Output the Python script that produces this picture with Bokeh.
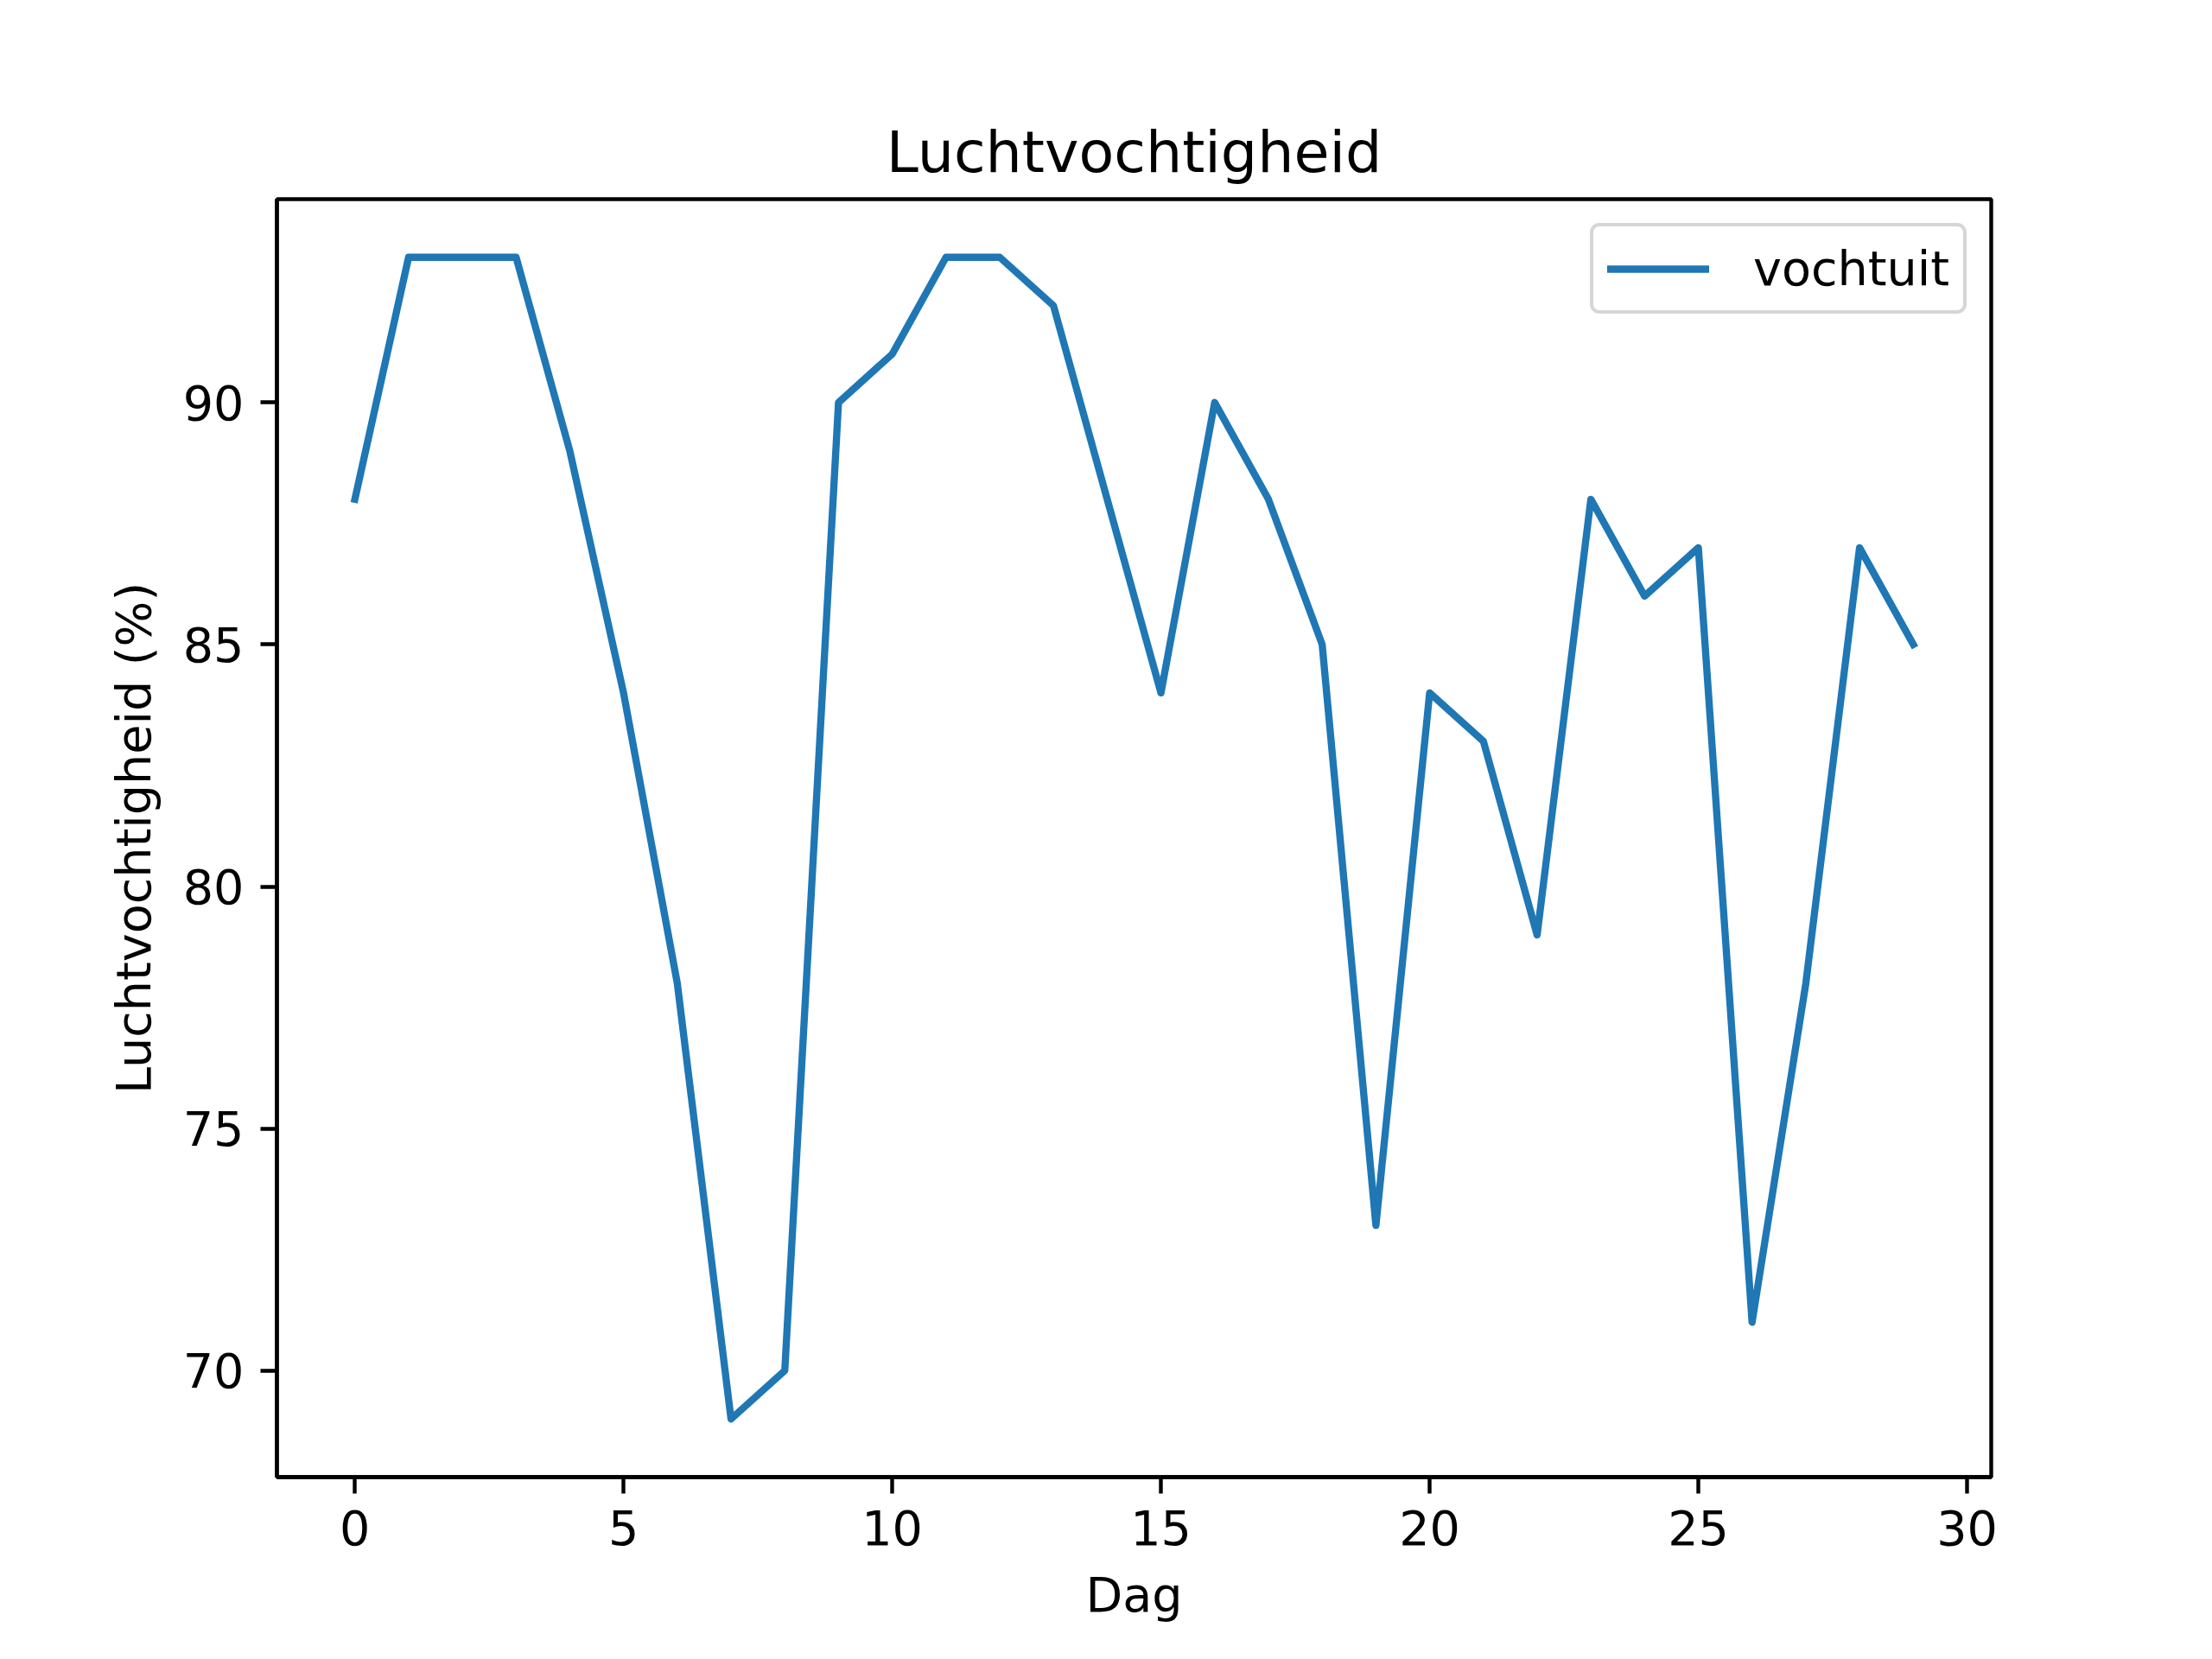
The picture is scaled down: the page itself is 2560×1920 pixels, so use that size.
from bokeh.plotting import figure
from bokeh.models import Range1d, FixedTicker, Legend, LegendItem
from bokeh.embed import file_html
from bokeh.resources import INLINE

# Data
dag = list(range(30))
vochtuit = [88, 93, 93, 93, 89, 84, 78, 69, 70, 90,
            91, 93, 93, 92, 88, 84, 90, 88, 85, 73,
            84, 83, 79, 88, 86, 87, 71, 78, 87, 85]
x_ticks = [0, 5, 10, 15, 20, 25, 30]
y_ticks = [70, 75, 80, 85, 90]
title_text = "Luchtvochtigheid"
x_label = "Dag"
y_label = "Luchtvochtigheid (%)"
series_name = "vochtuit"

FONT = "DejaVu Sans"
FS = "55.6px"
W, H = 2544, 1904

p = figure(width=W, height=H, output_backend="svg", toolbar_location=None,
           x_range=Range1d(-1.45, 30.45), y_range=Range1d(67.8, 94.2),
           min_border_left=320, min_border_right=240,
           min_border_top=230, min_border_bottom=195)

p.background_fill_color = "white"
p.border_fill_color = "white"
p.grid.visible = False
p.outline_line_color = "black"
p.outline_line_width = 4.4

p.title.text = title_text
p.title.align = "center"
p.title.text_font = FONT
p.title.text_font_size = "66.7px"
p.title.text_font_style = "normal"
p.title.text_color = "black"
p.title.standoff = 31

for ax, ticks in ((p.xaxis[0], x_ticks), (p.yaxis[0], y_ticks)):
    ax.ticker = FixedTicker(ticks=ticks)
    ax.axis_line_color = "black"
    ax.axis_line_width = 4.4
    ax.major_tick_line_color = "black"
    ax.major_tick_line_width = 4.4
    ax.major_tick_out = 19
    ax.major_tick_in = 0
    ax.minor_tick_line_color = None
    ax.major_label_standoff = 19
    ax.major_label_text_font = FONT
    ax.major_label_text_font_size = FS
    ax.major_label_text_color = "black"
    ax.axis_label_text_font = FONT
    ax.axis_label_text_font_size = FS
    ax.axis_label_text_font_style = "normal"
    ax.axis_label_text_color = "black"
    ax.axis_label_standoff = 22

p.xaxis.axis_label = x_label
p.yaxis.axis_label = y_label

r = p.line(dag, vochtuit, line_color="#1f77b4", line_width=8.33,
           line_join="round", line_cap="square")

legend = Legend(items=[LegendItem(label=series_name, renderers=[r])],
                location="top_right")
legend.margin = 28
legend.padding = 16
legend.spacing = 0
legend.glyph_width = 118
legend.glyph_height = 50
legend.label_height = 50
legend.label_standoff = 51
legend.label_text_font = FONT
legend.label_text_font_size = FS
legend.label_text_color = "black"
legend.border_line_color = "#cccccc"
legend.border_line_width = 4.4
legend.border_line_alpha = 0.8
legend.background_fill_alpha = 0.8
if "border_radius" in Legend.properties():
    legend.border_radius = 11
p.add_layout(legend)

open("out.html", "w").write(file_html(p, INLINE))
